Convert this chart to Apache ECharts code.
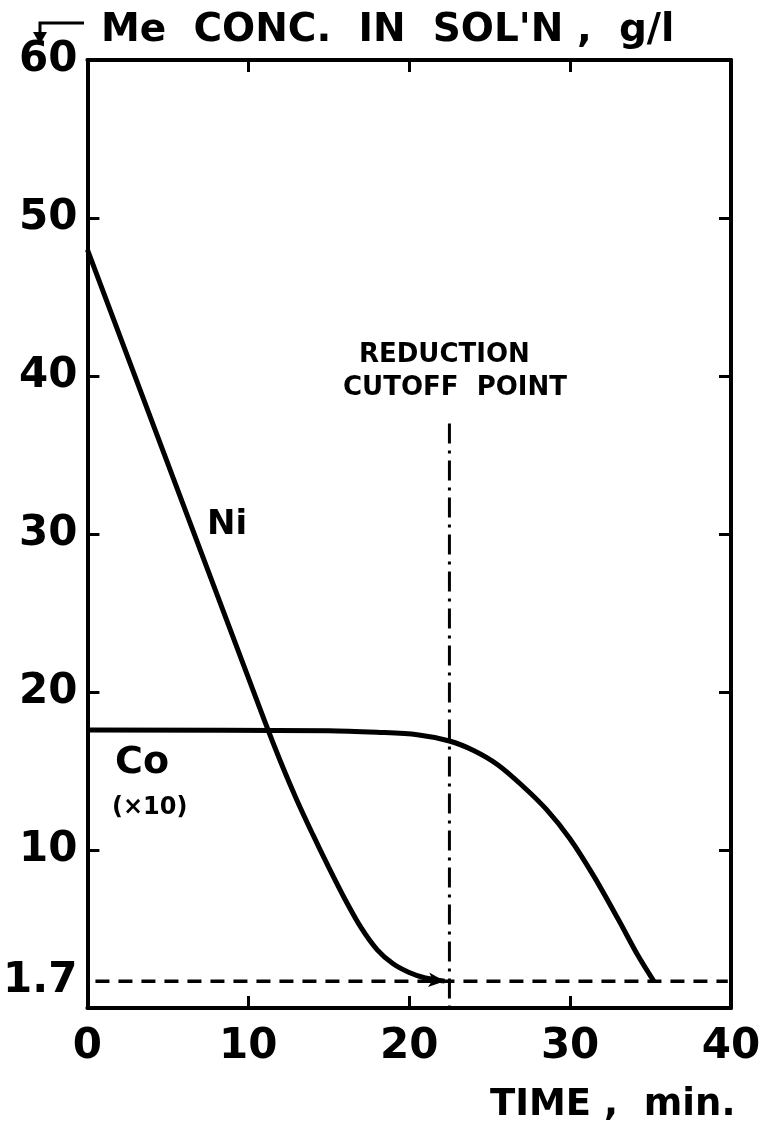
<!DOCTYPE html>
<html>
<head>
<meta charset="utf-8">
<script src="https://cdn.jsdelivr.net/npm/echarts@6/dist/echarts.min.js"></script>
<style>
html,body{margin:0;padding:0;background:#fff;}
#c{width:770px;height:1130px;}
</style>
</head>
<body>
<div id="c"></div>
<script>
// ---- data ----
const xTicks = [0, 10, 20, 30, 40];
const yLabelValues = [1.7, 10, 20, 30, 40, 50, 60];
const yTickValues = [10, 20, 30, 40, 50];
const niData = [[0,48],[11,18.2],[12,15.6],[13,13.2],[14,11.0],[15,8.9],[16,6.9],[17,5.1],[18,3.7],[19,2.8],[20,2.25],[21,1.9],[22.2,1.7]];
const coData = [[0,17.6],[15,17.55],[18,17.45],[20.5,17.3],[22.5,16.9],[24,16.3],[25.5,15.4],[27,14.1],[28.5,12.6],[30,10.7],[31.5,8.3],[33,5.6],[34.2,3.35],[35.2,1.7]];
const floorLevel = [[0.5,1.7],[39.8,1.7]];
const cutoffLine = [[22.5,37],[22.5,0]];

const FONT = 'DejaVu Sans';
const chart = echarts.init(document.getElementById('c'), null, {renderer:'canvas'});

const lastNi = niData.length - 1;
const niSeries = niData.map((p,i) => i === lastNi
  ? {value:p, symbol:'arrow', symbolSize:[11,16], symbolRotate:-95, itemStyle:{color:'#000'}}
  : {value:p});

function ticks(vals){
  return {show:true, inside:true, length:12, customValues:vals, lineStyle:{color:'#000', width:3}};
}
function axisLine(){ return {show:true, onZero:false, lineStyle:{color:'#000', width:4}}; }

chart.setOption({
  animation:false,
  backgroundColor:'#fff',
  title:[
    {text:"Me  CONC.  IN  SOL'N ,  g/l", left:96, top:6,
     textStyle:{fontFamily:FONT, fontWeight:'bold', fontSize:39, color:'#000'}},
    {text:'TIME ,  min.', left:485, top:1082,
     textStyle:{fontFamily:FONT, fontWeight:'bold', fontSize:37, color:'#000'}}
  ],
  grid:{left:84, right:39, top:60, bottom:122},
  xAxis:[
    {
      type:'value', min:0, max:40, interval:10, position:'bottom',
      axisLine:axisLine(), splitLine:{show:false},
      axisTick:ticks([10,20,30]),
      axisLabel:{show:true, margin:18, color:'#000', fontFamily:FONT, fontWeight:'bold', fontSize:42,
                 customValues:xTicks}
    },
    {
      type:'value', min:0, max:40, interval:10, position:'top',
      axisLine:axisLine(), splitLine:{show:false},
      axisTick:ticks([10,20,30]),
      axisLabel:{show:false}
    }
  ],
  yAxis:[
    {
      type:'value', min:0, max:60, interval:10, position:'left',
      axisLine:axisLine(), splitLine:{show:false},
      axisTick:ticks(yTickValues),
      axisLabel:{show:true, margin:10, color:'#000', fontFamily:FONT, fontWeight:'bold', fontSize:42,
                 customValues:yLabelValues, formatter:v => String(v)}
    },
    {
      type:'value', min:0, max:60, interval:10, position:'right',
      axisLine:axisLine(), splitLine:{show:false},
      axisTick:ticks(yTickValues),
      axisLabel:{show:false}
    }
  ],
  series:[
    {
      name:'Ni', type:'line', data:niSeries, smooth:0.25,
      symbol:'none', showSymbol:true,
      lineStyle:{color:'#000', width:5}, z:5
    },
    {
      name:'Co', type:'line', data:coData, smooth:0.3,
      symbol:'none', lineStyle:{color:'#000', width:5}, z:5
    },
    {
      name:'floor', type:'line', data:floorLevel, symbol:'none',
      lineStyle:{color:'#000', width:3.5, type:[14,9]}, z:4
    },
    {
      name:'cutoff', type:'line', data:cutoffLine, symbol:'none',
      lineStyle:{color:'#000', width:3, type:[20,7,3,7]}, z:4
    }
  ],
  graphic:[
    {type:'polyline', shape:{points:[[84,23],[40,23],[40,36]]}, style:{stroke:'#000', lineWidth:3, fill:null}},
    {type:'polygon', shape:{points:[[33,32],[47,32],[40,44]]}, style:{fill:'#000'}},
    {type:'text', left:207, top:508, style:{text:'Ni', fontFamily:FONT, fontWeight:'bold', fontSize:34, fill:'#000'}},
    {type:'text', left:115, top:744, style:{text:'Co', fontFamily:FONT, fontWeight:'bold', fontSize:38, fill:'#000'}},
    {type:'text', left:112, top:796, style:{text:'(×10)', fontFamily:FONT, fontWeight:'bold', fontSize:24, fill:'#000'}},
    {type:'text', left:359, top:342, style:{text:'REDUCTION', fontFamily:FONT, fontWeight:'bold', fontSize:26, fill:'#000'}},
    {type:'text', left:343, top:375, style:{text:'CUTOFF  POINT', fontFamily:FONT, fontWeight:'bold', fontSize:26, fill:'#000'}}
  ]
});
</script>
</body>
</html>
